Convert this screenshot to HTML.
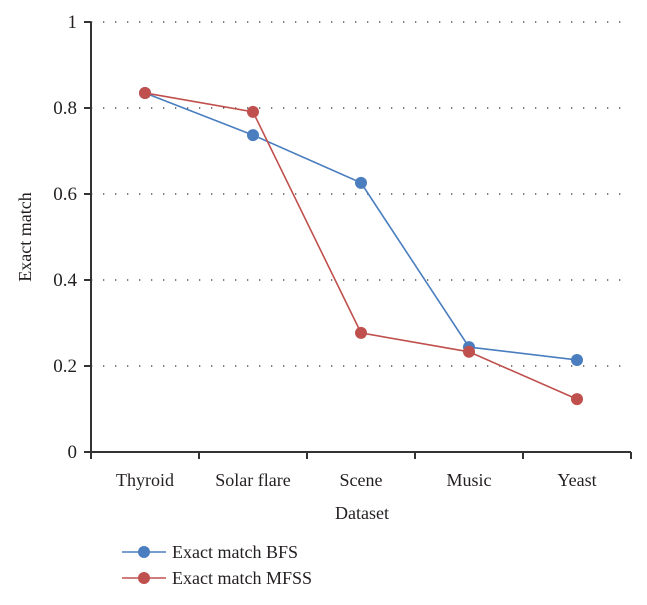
<!DOCTYPE html>
<html><head><meta charset="utf-8"><style>
body{margin:0;background:#fff;}
svg text{font-family:"Liberation Serif",serif;fill:#231f20;}
</style></head><body>
<svg id="chart" width="647" height="600"></svg>
<script>
const categories=["Thyroid","Solar flare","Scene","Music","Yeast"];
const bfsValues=[0.835,0.737,0.626,0.244,0.214];
const mfssValues=[0.835,0.791,0.277,0.233,0.123];
const yTicks=[0,0.2,0.4,0.6,0.8,1];
const yTickLabels=["0","0.2","0.4","0.6","0.8","1"];
const seriesNames=["Exact match BFS","Exact match MFSS"];

const NS="http://www.w3.org/2000/svg";
const svg=document.getElementById("chart");
const X0=91,X1=631,Y0=452,Y1=22;
const band=(X1-X0)/categories.length;
function xPos(i){return X0+band*(i+0.5);}
function yPos(v){return Y0-(Y0-Y1)*v;}
function mk(tag,attrs,parent){const e=document.createElementNS(NS,tag);for(const k in attrs)e.setAttribute(k,attrs[k]);(parent||svg).appendChild(e);return e;}

const grid=mk("g",{});


yTicks.forEach((t,i)=>{
  if(t>0){const l=mk("line",{x1:X0,x2:X1,y1:yPos(t),y2:yPos(t),stroke:"#333","stroke-width":1.3,"stroke-dasharray":"1.3 10.7"},grid);
  
  }
  const tk=mk("line",{x1:X0-7,x2:X0,y1:yPos(t),y2:yPos(t),stroke:"#333","stroke-width":2});
  
  
  const tx=mk("text",{x:X0-14,y:yPos(t)+6,"text-anchor":"end","font-size":19});
  tx.textContent=yTickLabels[i];
  
  
});
const ya=mk("line",{x1:X0,x2:X0,y1:Y1,y2:Y0,stroke:"#333","stroke-width":2});


const xa=mk("line",{x1:X0,x2:X1,y1:Y0,y2:Y0,stroke:"#333","stroke-width":2});


for(let i=0;i<=categories.length;i++){
  const tk=mk("line",{x1:X0+band*i,x2:X0+band*i,y1:Y0,y2:Y0+7,stroke:"#333","stroke-width":2});
  
  
}
categories.forEach((c,i)=>{
  const t=mk("text",{x:xPos(i),y:486,"text-anchor":"middle","font-size":18});
  t.textContent=c;
  
  
});
const xt=mk("text",{x:362,y:519,"text-anchor":"middle","font-size":18});xt.textContent="Dataset";


const yt=mk("text",{x:0,y:0,"text-anchor":"middle","font-size":18,transform:"translate(31,237) rotate(-90)"});yt.textContent="Exact match";



function series(vals,color,name){
  const g=mk("g",{});
  
  
  const p=mk("polyline",{points:vals.map((v,i)=>xPos(i)+","+yPos(v)).join(" "),fill:"none",stroke:color,"stroke-width":1.6},g);
  
  
  vals.forEach((v,i)=>{
    const c=mk("circle",{cx:xPos(i),cy:yPos(v),r:6,fill:color},g);
    
    
  });
}
series(bfsValues,"#4a7ebf","bfs-series");
series(mfssValues,"#c0504d","mfss-series");

const colors=["#4a7ebf","#c0504d"];
seriesNames.forEach((n,i)=>{
  const y=552+26*i;
  const g=mk("g",{});
  
  
  mk("line",{x1:122,x2:166,y1:y,y2:y,stroke:colors[i],"stroke-width":1.6},g);
  mk("circle",{cx:144,cy:y,r:6,fill:colors[i]},g);
  const t=mk("text",{x:172,y:y+6,"font-size":18},g);t.textContent=n;
});
</script>
</body></html>
